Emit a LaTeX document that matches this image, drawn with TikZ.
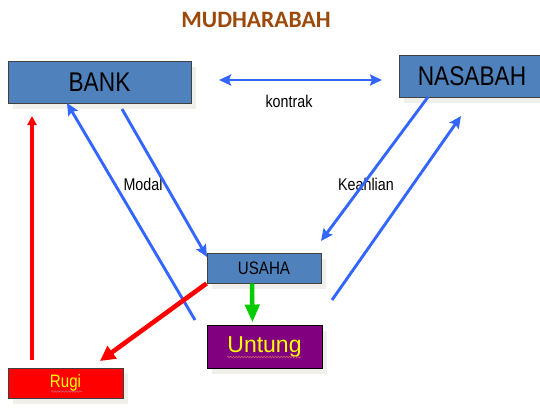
\documentclass[tikz,border=0pt]{standalone}
\usepackage{fontspec}
\setmainfont{Liberation Sans}
\newfontfamily\narrowfont[FakeStretch=0.84]{Liberation Sans}
\newfontfamily\titlefont{Carlito}
\usetikzlibrary{arrows.meta,shadows,decorations.pathmorphing}

\definecolor{boxblue}{RGB}{79,129,189}
\definecolor{boxedge}{RGB}{64,64,64}
\definecolor{linkblue}{RGB}{51,102,255}
\definecolor{titlebrown}{RGB}{156,74,12}
\definecolor{shadowgray}{RGB}{240,239,233}
\definecolor{gainpurple}{RGB}{128,0,128}
\definecolor{gaingreen}{RGB}{0,204,0}
\definecolor{lossred}{RGB}{255,0,0}
\definecolor{labelyellow}{RGB}{255,255,0}
\definecolor{waveline}{RGB}{210,90,110}

\begin{document}
\begin{tikzpicture}[x=1pt,y=-1pt,
  heading/.style={text=titlebrown, font=\titlefont\bfseries\fontsize{23.5}{26}\selectfont, inner sep=0pt},
  panel/.style={draw=boxedge, line width=0.9pt, inner sep=0pt,
    general shadow={fill=shadowgray, shadow xshift=5pt, shadow yshift=-6pt}},
  bigword/.style={font=\narrowfont\fontsize{27}{30}\selectfont},
  smallword/.style={font=\narrowfont\fontsize{18}{20}\selectfont},
  tag/.style={font=\narrowfont\fontsize{17}{19}\selectfont, inner sep=0pt},
  link/.style={draw=linkblue, line width=2.9pt, -{Stealth[length=12pt,width=11pt,inset=2pt]}},
  linkboth/.style={draw=linkblue, line width=2.9pt, {Stealth[length=12pt,width=11pt,inset=2pt]}-{Stealth[length=12pt,width=11pt,inset=2pt]}},
  lossarrow/.style={draw=lossred, line width=4.6pt, -{Triangle[length=15pt,width=15pt]}},
  lossthin/.style={draw=lossred, line width=3.6pt, -{Triangle[length=9pt,width=9pt]}},
  gainarrow/.style={draw=gaingreen, line width=4.5pt, -{Triangle[length=18pt,width=14pt]}},
  squiggle/.style={draw=waveline, line width=0.6pt, decorate,
    decoration={snake, amplitude=0.8pt, segment length=2.8pt}}
]
\useasboundingbox (0,0) rectangle (540,413);

% title
\node[heading] (judul) at (256,20) {MUDHARABAH};

% boxes
\node[panel, fill=boxblue, minimum width=183pt, minimum height=42pt, bigword] (bank) at (99.5,82) {BANK};
\node[panel, fill=boxblue, minimum width=146pt, minimum height=42pt, bigword] (nasabah) at (472,76) {NASABAH};
\node[panel, fill=boxblue, minimum width=114pt, minimum height=30pt, smallword] (usaha) at (264,268) {USAHA};
\node[panel, draw=black, fill=gainpurple, text=labelyellow, minimum width=115pt, minimum height=43pt,
      font=\fontsize{23}{26}\selectfont] (untung) at (264.5,346.5) {Untung};
\node[panel, fill=lossred, text=labelyellow, minimum width=115pt, minimum height=30pt, smallword] (rugi) at (65.5,383) {Rugi};

% spell-check style underlines
\draw[squiggle] (227,357) -- (301,357);
\draw[squiggle] (51,391.5) -- (82,391.5);

% labels
\node[tag] (kontrak) at (289,101) {kontrak};
\node[tag] (modal) at (143,184) {Modal};
\node[tag] (keahlian) at (366,184) {Keahlian};

% free line ends
\coordinate (kLeft) at (219,80);
\coordinate (kRight) at (382,80);
\coordinate (modalBack) at (195,320);
\coordinate (bankIn) at (67,103);
\coordinate (bankOut) at (122,109);
\coordinate (usahaIn) at (207,257);
\coordinate (nasOut) at (428,97);
\coordinate (usahaInR) at (321,241);
\coordinate (nasBack) at (332,300);
\coordinate (nasIn) at (461,116);
\coordinate (rugiTip) at (100,361);
\coordinate (rugiUp) at (32,360);
\coordinate (bankUp) at (32,116);

% contract
\draw[linkboth] (kLeft) -- (kRight);

% capital and skill flows
\draw[link] (bankOut) -- (usahaIn);
\draw[link] (modalBack) -- (bankIn);
\draw[link] (nasOut) -- (usahaInR);
\draw[link] (nasBack) -- (nasIn);

% profit and loss
\draw[gainarrow, shorten >=2pt] ([xshift=-12pt]usaha.south) -- ([xshift=-12pt]untung.north);
\draw[lossarrow] (usaha.south west) -- (rugiTip);
\draw[lossthin] (rugiUp) -- (bankUp);
\end{tikzpicture}
\end{document}
